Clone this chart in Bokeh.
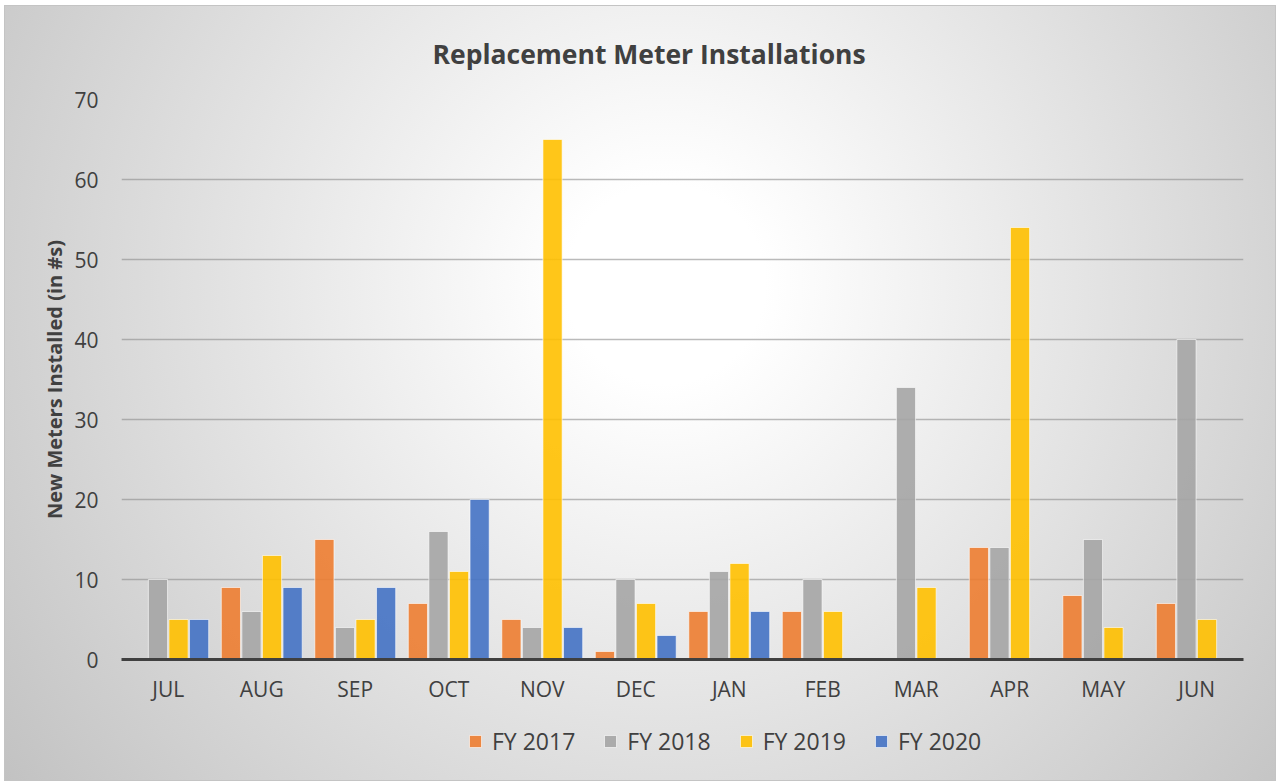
from bokeh.plotting import figure
from bokeh.models import ColumnDataSource, Range1d, Legend, LegendItem
from bokeh.layouts import column
from bokeh.transform import dodge
from bokeh.embed import file_html
from bokeh.resources import INLINE

months = ["JUL", "AUG", "SEP", "OCT", "NOV", "DEC", "JAN", "FEB", "MAR", "APR", "MAY", "JUN"]
series_names = ["FY 2017", "FY 2018", "FY 2019", "FY 2020"]
fy2017 = [None, 9, 15, 7, 5, 1, 6, 6, None, 14, 8, 7]
fy2018 = [10, 6, 4, 16, 4, 10, 11, 10, 34, 14, 15, 40]
fy2019 = [5, 13, 5, 11, 65, 7, 12, 6, 9, 54, 4, 5]
fy2020 = [5, 9, 9, 20, 4, 3, 6, None, None, None, None, None]
y_ticks = [0, 10, 20, 30, 40, 50, 60, 70]

colors = ["#ED7D31", "#A5A5A5", "#FFC000", "#4472C4"]
offsets = [-0.33, -0.11, 0.11, 0.33]
FONT = "Open Sans"
TXT = "#404040"

p = figure(x_range=months, y_range=Range1d(0, 70), width=1272, height=700,
           output_backend="svg", toolbar_location=None,
           min_border_left=117, min_border_right=33, min_border_top=94, min_border_bottom=43)
p.border_fill_color = None
p.background_fill_color = None
p.outline_line_color = None

p.title.text = "Replacement Meter Installations"
p.title.align = "left"
p.title.offset = 311
p.title.text_font = FONT
p.title.text_font_size = "26.5px"
p.title.text_font_style = "bold"
p.title.text_color = TXT
p.title.standoff = 56

sources = []
for name, vals, col, off in zip(series_names, [fy2017, fy2018, fy2019, fy2020], colors, offsets):
    xs = [m for m, v in zip(months, vals) if v is not None]
    ys = [v for v in vals if v is not None]
    src = ColumnDataSource(dict(x=xs, top=ys))
    sources.append(src)
    p.vbar(x=dodge("x", off, range=p.x_range), top="top", width=0.205, source=src,
           fill_color=col, fill_alpha=0.9, line_color="white", line_alpha=0.6, line_width=1)

p.yaxis.ticker = y_ticks
p.yaxis.axis_line_color = None
p.yaxis.major_tick_line_color = None
p.yaxis.minor_tick_line_color = None
p.yaxis.major_label_text_font = FONT
p.yaxis.major_label_text_font_size = "21px"
p.yaxis.major_label_text_color = TXT
p.yaxis.major_label_standoff = 17
p.yaxis.axis_label = "New Meters Installed (in #s)"
p.yaxis.axis_label_text_font = FONT
p.yaxis.axis_label_text_font_size = "20px"
p.yaxis.axis_label_text_font_style = "bold"
p.yaxis.axis_label_text_color = TXT
p.yaxis.axis_label_standoff = 3

p.xaxis.axis_line_color = "#404040"
p.xaxis.axis_line_width = 3
p.xaxis.major_tick_line_color = None
p.xaxis.minor_tick_line_color = None
p.xaxis.major_label_text_font = FONT
p.xaxis.major_label_text_font_size = "21px"
p.xaxis.major_label_text_color = TXT
p.xaxis.major_label_standoff = 9

p.xgrid.grid_line_color = None
p.ygrid.grid_line_color = "#8c8c8c"
p.ygrid.grid_line_alpha = 0.6
p.ygrid.grid_line_width = 1.5

# legend strip below the chart: hidden copies of the series provide the legend keys
lg = figure(x_range=months, y_range=Range1d(0, 70), width=1272, height=76,
            output_backend="svg", toolbar_location=None, min_border=0)
lg.border_fill_color = None
lg.background_fill_color = None
lg.outline_line_color = None
lg.axis.visible = False
lg.grid.visible = False
items = []
for name, col, src in zip(series_names, colors, sources):
    rr = lg.scatter(x="x", y="top", marker="square", size=12, source=src, fill_color=col,
                    fill_alpha=0.9, line_color="white", line_alpha=0.6, line_width=1, visible=False)
    items.append(LegendItem(label=name, renderers=[rr]))
legend = Legend(items=items, orientation="horizontal", location=(339, 24),
                label_text_font=FONT, label_text_font_size="23px", label_text_color=TXT,
                glyph_width=30, glyph_height=30, spacing=20, label_standoff=2,
                background_fill_alpha=0, border_line_color=None, margin=0, padding=4)
lg.add_layout(legend, "center")

layout = column(p, lg, spacing=0)
layout.styles = {
    "background-image": "radial-gradient(circle at 52% 36%, #ffffff 0%, #ffffff 12%, #c2c2c2 100%)",
    "outline": "1px solid #c4c4c4",
    "outline-offset": "-1px",
    "margin-left": "4px",
    "margin-top": "5px",
}

open("out.html", "w").write(file_html(layout, INLINE))
